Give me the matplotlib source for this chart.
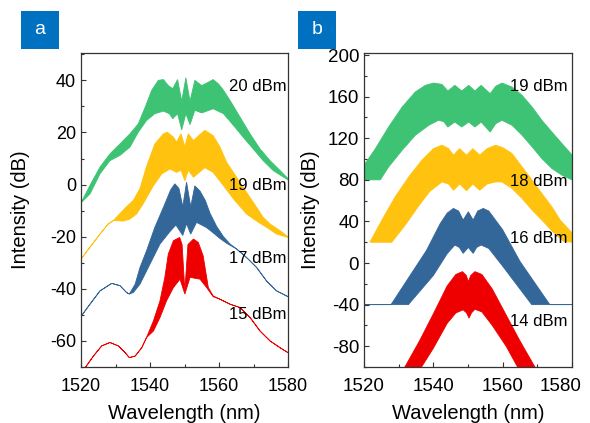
import matplotlib

matplotlib.use("Agg")
import matplotlib.pyplot as plt
import numpy as np
from matplotlib.patches import Rectangle
from matplotlib.ticker import MultipleLocator
from matplotlib.transforms import ScaledTranslation

plt.rcParams["font.family"] = ["Liberation Sans", "DejaVu Sans"]
plt.rcParams["axes.unicode_minus"] = False

GREEN = "#3dc373"
YELLOW = "#ffc20e"
BLUE = "#336699"
RED = "#ee0000"
TAG_BLUE = "#0070c0"

# ---- panel a: upper envelope over the whole trace, lower envelope only where the trace is thick ----
A20_UP_X = [1520, 1522.6, 1525.5, 1528.4, 1531.3, 1534.2, 1536.6, 1538.6, 1540.5, 1542.4, 1543.9, 1545.3, 1546.6,
            1548, 1549.2, 1550.4, 1551.6, 1553, 1555, 1556.5, 1558.3, 1559.8, 1561.3, 1563.2, 1566.1, 1569,
            1571.9, 1574.8, 1577.7, 1580]
A20_UP_Y = [-7, -0.3, 6.7, 11.8, 15.6, 19.5, 23.3, 29.7, 36.2, 40, 40.3, 38, 36.8,
            40.3, 32, 41, 32, 40, 38, 39, 40.3, 38.7, 36.2, 32.3, 25.9, 19.5,
            13.7, 9.2, 5.4, 2.3]
A20_LO_X = [1520, 1522.6, 1525.5, 1528.4, 1531.3, 1534.2, 1536.6, 1539, 1541.4, 1543.9, 1545.6, 1546.6, 1548,
            1549.2, 1550.4, 1551.6, 1553, 1555, 1558.3, 1561.3, 1564.2, 1567, 1569.9, 1572.8, 1575.7, 1580]
A20_LO_Y = [-7, -3.6, 4.1, 9.2, 11.2, 14.4, 20.1, 24.6, 27.2, 28.2, 27.2, 25.3, 27.2,
            21, 27.2, 23, 28.5, 27.5, 29.1, 27.2, 22.7, 18.2, 13.7, 9.2, 5.4, 1.8]

A19_UP_X = [1520, 1522.6, 1525.5, 1527.9, 1529.4, 1531, 1533.2, 1535.2, 1537.1, 1539, 1541.4, 1543.9, 1545,
            1546.8, 1547.7, 1549, 1550.1, 1551.1, 1552.6, 1554.3, 1555.9, 1558.3, 1560.3, 1562.2, 1565.1,
            1568, 1570.9, 1572.8, 1574.8, 1577.7, 1580]
A19_UP_Y = [-28.6, -24, -19, -15.1, -13.8, -11.5, -8.5, -6, -1.5, 7, 15.6, 19.5, 20.1,
            18.2, 16.3, 19.5, 14.5, 19.5, 16.9, 19, 20.8, 18.8, 14.4, 8.6, 2.8,
            -3, -8.7, -12.6, -15.1, -17.7, -20]
A19_LO_X = [1529.4, 1532.3, 1534.2, 1536.1, 1538, 1541, 1543.4, 1545.8, 1547.7, 1549, 1550.1, 1551.1,
            1552.6, 1555.9, 1558.3, 1561.3, 1564.2, 1568, 1570.9, 1573.8, 1576.7, 1580]
A19_LO_Y = [-13.8, -14, -13.2, -11.3, -7.4, -0.4, 4.1, 6, 4.7, 5.5, 1.5, 5.5,
            2.8, 6.5, 4.7, -0.4, -5.5, -11.3, -14, -16.4, -19, -20.3]

A17_UP_X = [1520, 1522.6, 1525.5, 1528.9, 1531.3, 1533.2, 1534, 1535.7, 1537.1, 1539, 1541.4, 1543.9, 1546,
            1547.2, 1548.4, 1549.5, 1550.6, 1551.8, 1553, 1554.5, 1556, 1557.4, 1559.3, 1561.3, 1563.2,
            1565.1, 1568, 1570.9, 1573.8, 1576.7, 1580]
A17_UP_Y = [-50.6, -45.9, -40.8, -37.9, -38.8, -41.4, -42, -38.2, -31.8, -25.4, -16.4, -8.7, -2,
            0.3, -1.5, -8.5, 0.9, -8.5, -0.5, -2.5, -6, -11, -16, -20, -22.8,
            -24.7, -28, -31.8, -37, -40.8, -43]
A17_LO_X = [1534, 1535.2, 1537.1, 1540, 1542.9, 1545.8, 1547.5, 1549.5, 1550.6, 1551.8, 1553.5, 1556.4,
            1558.3, 1560.3, 1562.2, 1565.1]
A17_LO_Y = [-42, -41.4, -38.2, -30.5, -22.8, -18, -15.5, -19.5, -15, -19, -14.5, -16.5,
            -18.5, -20.7, -22.5, -24.7]

A15_UP_X = [1520, 1521.2, 1523.6, 1526, 1528.4, 1530.8, 1532.8, 1534, 1535.7, 1537.6, 1539, 1541, 1542.9,
            1544.3, 1545.3, 1546.8, 1548.6, 1549.3, 1550.1, 1551, 1552.6, 1554, 1555.4, 1556.9, 1558.3,
            1560.3, 1563.2, 1566.1, 1569, 1571.9, 1574.8, 1577.7, 1580]
A15_UP_Y = [-72.5, -70.3, -65.8, -61.9, -60.6, -61.9, -64.5, -66.4, -65.8, -62.6, -58.7, -52.3, -44.6,
            -35.6, -26.7, -21.5, -20.3, -23, -40.8, -23, -20.9, -22.2, -27.3, -39.5, -42.7,
            -44, -45.9, -47.2, -51, -56.2, -60, -62.6, -64.5]
A15_LO_X = [1539, 1541, 1542.9, 1544.8, 1546.8, 1548.7, 1550.1, 1551.6, 1554.5, 1556.4, 1558.3, 1560.3]
A15_LO_Y = [-58.7, -56.2, -51, -44.6, -39.5, -36.3, -42, -35.6, -36.3, -39.5, -43, -44]

# ---- panel b ----
B19_UP_X = [1520, 1523.3, 1527.1, 1531, 1534.8, 1537.7, 1540.1, 1542.5, 1544.2, 1546.2, 1548.2, 1550.2,
            1552, 1553.8, 1556.4, 1558, 1559.8, 1562.7, 1565.6, 1568.5, 1571.3, 1574.2, 1577.1, 1580]
B19_UP_Y = [94, 110, 130.8, 150, 164.5, 170.9, 173.1, 171.8, 165.5, 170.9, 165.5, 170.9,
            165.5, 170.9, 162.9, 170, 173.1, 169.3, 161.3, 150, 137.3, 126, 114.9, 104]
B19_LO_X = [1520, 1524.7, 1527.1, 1531, 1534.8, 1538.7, 1541.5, 1543, 1544.2, 1546.2, 1548.2, 1550.2,
            1552, 1553.8, 1556.4, 1558, 1559.8, 1562.7, 1565.6, 1568.5, 1571.3, 1574.2, 1577.1, 1580]
B19_LO_Y = [80, 80, 92.4, 108.5, 122.9, 132.5, 137.3, 136, 130.8, 135.6, 130.8, 135.6,
            130.8, 135.6, 126, 134, 137.3, 132.5, 122.9, 111.7, 100.5, 90.9, 84.5, 80]

B18_UP_X = [1521.7, 1525.7, 1529, 1532.9, 1536.7, 1540.1, 1542.5, 1544.4, 1545.8, 1547.6, 1549.6, 1551.4,
            1553.4, 1555.5, 1558, 1560, 1562.7, 1565.6, 1568.5, 1571.3, 1574.2, 1576.6, 1580]
B18_UP_Y = [20, 44.5, 63.6, 82.8, 98.9, 110.1, 113.3, 110.1, 103.7, 110, 103.7, 110,
            103.7, 110, 113.3, 111, 105.3, 92.4, 79.7, 66.9, 54, 41.3, 29]
B18_LO_X = [1521.7, 1528, 1532, 1536, 1539, 1542.5, 1544.4, 1545.8, 1547.6, 1549.6, 1551.4, 1553.4,
            1555.5, 1558, 1559.8, 1562.7, 1565.6, 1568.5, 1571.3, 1574.2, 1577.5, 1580]
B18_LO_Y = [20, 20, 37, 56, 69, 78, 76, 70, 76, 69.5, 76, 70,
            76, 78, 78, 71.7, 62.1, 50.9, 41.3, 31, 21, 20]

B16_UP_X = [1520, 1527.8, 1538, 1542, 1544, 1545.8, 1547.3, 1548.6, 1550.1, 1551.5, 1552.8, 1554.4,
            1556, 1560, 1565, 1573.6, 1580]
B16_UP_Y = [-40, -40, 12, 38, 48, 52.5, 50, 41.3, 49.3, 41.3, 50, 52.5,
            50, 32, 1.5, -40, -40]
B16_LO_X = [1520, 1532.8, 1540, 1544, 1546.2, 1547.5, 1548.6, 1550.1, 1551.5, 1552.5, 1553.8, 1556,
            1560, 1568.4, 1580]
B16_LO_Y = [-40, -40, -12, 9, 17.3, 15, 9.3, 15, 9.3, 15, 17.3, 14,
            -3, -40, -40]

B14_UP_X = [1531.8, 1536, 1540, 1544, 1546.5, 1548.4, 1549.5, 1550.1, 1550.8, 1552, 1554, 1557,
            1561, 1565, 1569.3]
B14_UP_Y = [-100, -75, -49, -22, -11, -8.3, -12, -18, -12, -8.3, -11, -25,
            -50, -75, -100]
B14_LO_X = [1531.8, 1536.6, 1540, 1544, 1546.5, 1548.6, 1549.6, 1550.3, 1551, 1552, 1554, 1557, 1561,
            1564.3, 1569.3]
B14_LO_Y = [-100, -100, -82, -58, -48, -45, -48, -53, -48, -44.5, -47, -60, -80, -100, -100]

LABELS_A = ["20 dBm", "19 dBm", "17 dBm", "15 dBm"]
LABEL_Y_A = [37.7, -0.5, -28.5, -50]
LABELS_B = ["19 dBm", "18 dBm", "16 dBm", "14 dBm"]
LABEL_Y_B = [170, 78, 23.5, -56]


def band(ax, ux, uy, lx, ly, color):
    ux, uy, lx, ly = (np.asarray(v, dtype=float) for v in (ux, uy, lx, ly))
    # where the lower envelope is not given the trace is a single thin line
    right = ux > lx[-1]
    left = ux < lx[0]
    xs = np.concatenate([ux, ux[right][::-1], lx[::-1], ux[left][::-1]])
    ys = np.concatenate([uy, uy[right][::-1], ly[::-1], uy[left][::-1]])
    ax.fill(xs, ys, facecolor=color, edgecolor=color, linewidth=0.6)


def style(ax, ylim, major, minor, size, ylabel_x):
    ax.set_xlim(1520, 1580)
    ax.set_ylim(*ylim)
    ax.xaxis.set_major_locator(MultipleLocator(20))
    ax.xaxis.set_minor_locator(MultipleLocator(10))
    ax.yaxis.set_major_locator(MultipleLocator(major))
    ax.yaxis.set_minor_locator(MultipleLocator(minor))
    ax.tick_params(which="both", direction="in", labelsize=size, width=0.8, color="#333333")
    ax.tick_params(which="major", length=3.5)
    ax.tick_params(which="minor", length=2.5)
    ax.tick_params(axis="x", pad=8)
    for sp in ax.spines.values():
        sp.set_linewidth(0.9)
        sp.set_color("#333333")
    ax.set_xlabel("Wavelength (nm)", fontsize=14.5)
    ax.set_ylabel("Intensity (dB)", fontsize=14.5)
    ax.xaxis.set_label_coords(0.5, -0.118)
    ax.yaxis.set_label_coords(ylabel_x, 0.5)


def main() -> None:
    fig = plt.figure(figsize=(5.9, 4.23), dpi=100)
    ax_a = fig.add_axes([81 / 590, 56 / 423, 207 / 590, 314 / 423])
    ax_b = fig.add_axes([364 / 590, 56 / 423, 208 / 590, 314 / 423])

    band(ax_a, A20_UP_X, A20_UP_Y, A20_LO_X, A20_LO_Y, GREEN)
    band(ax_a, A19_UP_X, A19_UP_Y, A19_LO_X, A19_LO_Y, YELLOW)
    band(ax_a, A17_UP_X, A17_UP_Y, A17_LO_X, A17_LO_Y, BLUE)
    band(ax_a, A15_UP_X, A15_UP_Y, A15_LO_X, A15_LO_Y, RED)
    for txt, y in zip(LABELS_A, LABEL_Y_A):
        ax_a.text(1579.5, y, txt, fontsize=12, ha="right", va="center")
    style(ax_a, (-70, 50.5), 20, 10, 13, -0.246)

    band(ax_b, B19_UP_X, B19_UP_Y, B19_LO_X, B19_LO_Y, GREEN)
    band(ax_b, B18_UP_X, B18_UP_Y, B18_LO_X, B18_LO_Y, YELLOW)
    band(ax_b, B16_UP_X, B16_UP_Y, B16_LO_X, B16_LO_Y, BLUE)
    band(ax_b, B14_UP_X, B14_UP_Y, B14_LO_X, B14_LO_Y, RED)
    for txt, y in zip(LABELS_B, LABEL_Y_B):
        ax_b.text(1578.6, y, txt, fontsize=12, ha="right", va="center")
    style(ax_b, (-100, 202), 40, 20, 13.5, -0.21)

    for x0, tag in ((21, "a"), (298, "b")):
        fig.patches.append(Rectangle((x0 / 590, 374 / 423), 38 / 590, 38 / 423,
                                     transform=fig.transFigure, facecolor=TAG_BLUE, edgecolor="none"))
        fig.text((x0 + 19) / 590, 393 / 423, tag, color="white", fontsize=14, ha="center", va="center")

    # the last wavelength label of panel b sits slightly left so it stays on the canvas
    fig.canvas.draw()
    for tick in ax_b.xaxis.get_major_ticks():
        if abs(tick.get_loc() - 1580) < 1e-6:
            lab = tick.label1
            lab.set_transform(lab.get_transform() + ScaledTranslation(-8 / 72, 0, fig.dpi_scale_trans))

    fig.savefig("out.png", dpi=100)
    plt.close(fig)


if __name__ == "__main__":
    main()
